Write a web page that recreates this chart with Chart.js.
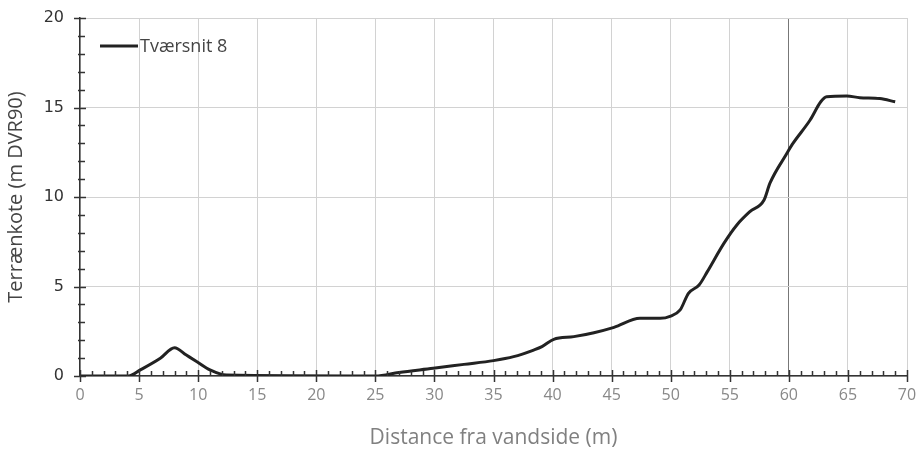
<!DOCTYPE html>
<html>
<head>
<meta charset="utf-8">
<script src="https://cdn.jsdelivr.net/npm/chart.js@4.4.1/dist/chart.umd.min.js"></script>
<style>
  html, body { margin: 0; padding: 0; background: #fff; }
  #wrap { width: 923px; height: 451px; }
</style>
</head>
<body>
<div id="wrap"><canvas id="myChart" width="923" height="451"></canvas></div>
<script>
(function () {
  'use strict'

  // Tværsnit 8
  var afstand = [0, 4.1, 5.1, 6.8, 8.0, 9.0, 9.9, 11.0, 12.4, 25.0, 27.0, 29.9, 32.5, 35.0, 36.7, 38.4, 39.1, 40.1, 41.8, 43.5, 45.2, 47.4, 49.1, 50.0, 50.8, 51.5, 52.4, 53.1, 54.5, 55.6, 56.7, 57.9, 58.4, 59.8, 60.3, 61.8, 62.7, 63.2, 64.9, 66.0, 67.7, 69.0]
  var kote = [0, 0, 0.34, 0.99, 1.58, 1.17, 0.8, 0.34, 0.05, 0.0, 0.2, 0.43, 0.65, 0.86, 1.08, 1.45, 1.64, 2.05, 2.2, 2.42, 2.72, 3.22, 3.22, 3.35, 3.69, 4.62, 5.08, 5.83, 7.41, 8.44, 9.18, 9.83, 10.77, 12.4, 12.95, 14.3, 15.32, 15.6, 15.64, 15.55, 15.5, 15.32]
  var serieNavn = 'Tværsnit 8'
  var xTitel = 'Distance fra vandside (m)'
  var yTitel = 'Terrænkote (m DVR90)'

  var punkter = afstand.map(function (x, i) { return { x: x, y: kote[i] } })

  // small ticks on the inside of the axes + legend inside the plot
  var akseTicks = {
    id: 'akseTicks',
    afterDatasetsDraw: function (chart) {
      var c = chart.ctx
      var xs = chart.scales.x
      var ys = chart.scales.y
      var y0 = ys.getPixelForValue(0)
      var x0 = xs.getPixelForValue(0)
      c.save()
      c.strokeStyle = '#333'
      c.lineWidth = 1.5
      for (var i = 0; i <= 70; i++) {
        var px = Math.round(xs.getPixelForValue(i)) + 0.5
        c.beginPath()
        if (i % 5 === 0) { c.moveTo(px, y0 - 6); c.lineTo(px, y0 + 6) }
        else { c.moveTo(px, y0); c.lineTo(px, y0 - 5) }
        c.stroke()
      }
      for (var j = 0; j <= 20; j++) {
        var py = Math.round(ys.getPixelForValue(j)) + 0.5
        c.beginPath()
        if (j % 5 === 0) { c.moveTo(x0 - 6, py); c.lineTo(x0 + 6, py) }
        else { c.moveTo(x0 - 2, py); c.lineTo(x0 + 5, py) }
        c.stroke()
      }
      // legend
      var ca = chart.chartArea
      c.strokeStyle = '#222'
      c.lineWidth = 3
      c.beginPath()
      c.moveTo(ca.left + 20, ca.top + 28)
      c.lineTo(ca.left + 58, ca.top + 28)
      c.stroke()
      c.fillStyle = '#444'
      c.font = '18px "Open Sans"'
      c.textBaseline = 'middle'
      c.fillText(chart.data.datasets[0].label, ca.left + 60, ca.top + 29)
      c.restore()
    }
  }

  var ctx = document.getElementById('myChart')
  var myChart = new Chart(ctx, {
    type: 'line',
    data: {
      datasets: [{
        label: serieNavn,
        data: punkter,
        borderColor: '#222',
        borderWidth: 3,
        pointRadius: 0,
        cubicInterpolationMode: 'monotone',
        fill: false
      }]
    },
    options: {
      responsive: false,
      animation: false,
      layout: { padding: { top: 18, right: 16, left: 0, bottom: 0 } },
      plugins: {
        legend: { display: false },
        tooltip: { enabled: false }
      },
      scales: {
        x: {
          type: 'linear',
          min: 0,
          max: 70,
          ticks: { stepSize: 5, color: '#888', font: { family: 'Open Sans', size: 16 }, padding: 10 },
          grid: {
            color: function (c) { return c.tick && c.tick.value === 60 ? '#777' : '#d2d2d2' },
            lineWidth: 1,
            drawTicks: false
          },
          border: { color: '#333', width: 1.5 },
          title: { display: true, text: xTitel, color: '#808080', font: { family: 'Open Sans', size: 21 }, padding: { top: 4, bottom: 0 } },
          afterFit: function (s) { s.height = 75; s.paddingLeft = 0; s.paddingRight = 0 }
        },
        y: {
          min: 0,
          max: 20,
          ticks: { stepSize: 5, color: '#333', font: { family: 'DejaVu Sans', size: 16 }, padding: 16 },
          grid: { color: '#d2d2d2', lineWidth: 1, drawTicks: false },
          border: { color: '#333', width: 1.5 },
          title: { display: true, text: yTitel, color: '#444', font: { family: 'Open Sans', size: 20 }, padding: { bottom: 2 } },
          afterFit: function (s) { s.width = 80; s.paddingTop = 0; s.paddingBottom = 0 }
        }
      }
    },
    plugins: [akseTicks]
  })
})()
</script>
</body>
</html>
